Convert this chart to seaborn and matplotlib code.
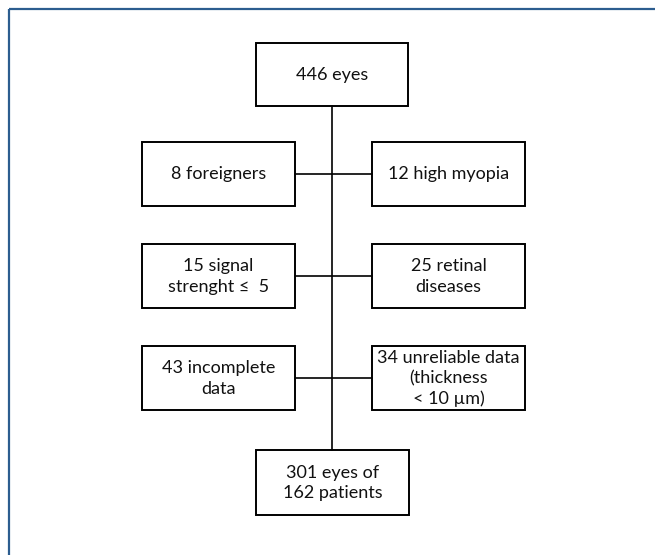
import matplotlib
matplotlib.use("Agg")
import matplotlib.pyplot as plt
import seaborn as sns
from matplotlib.patches import Rectangle

sns.set_theme(style="white")
plt.rcParams['font.family'] = ['Lato', 'DejaVu Sans']

# Flowchart content
top_label = "446 eyes"
left_labels = ["8 foreigners", "15 signal\nstrenght ≤  5", "43 incomplete\ndata"]
right_labels = ["12 high myopia", "25 retinal\ndiseases", "34 unreliable data\n(thickness\n< 10 µm)"]
bottom_label = "301 eyes of\n162 patients"

W, H = 655, 555
fig = plt.figure(figsize=(W / 100, H / 100), dpi=100)
ax = fig.add_axes([0, 0, 1, 1])
ax.set_xlim(0, W)
ax.set_ylim(H, 0)
ax.axis("off")

# outer frame (extends beyond the right and bottom edges)
ax.add_patch(Rectangle((9, 9), W + 20, H + 20, fill=False, edgecolor="#2c5d8f", lw=1.6))

box_lw = 1.4
fs = 13.0

def box(x0, y0, x1, y1, text):
    ax.add_patch(Rectangle((x0, y0), x1 - x0, y1 - y0, fill=False, edgecolor="black", lw=box_lw, zorder=3))
    ax.text((x0 + x1) / 2, (y0 + y1) / 2 + 0.5, text, ha="center", va="center", fontsize=fs,
            color="#111111", linespacing=1.32, zorder=4)

cx = 331.5
top_box = (256, 43, 408, 106)
bot_box = (256, 450, 409, 515)
rows_y = [(142, 206), (244, 308), (346, 410)]
left_x = (142, 295)
right_x = (372, 525)

# central vertical line
sns.lineplot(x=[cx, cx], y=[top_box[3], bot_box[1]], ax=ax, color="black", lw=1.2, estimator=None, sort=False)

box(*top_box, top_label)
box(*bot_box, bottom_label)
for (y0, y1), lt, rt in zip(rows_y, left_labels, right_labels):
    box(left_x[0], y0, left_x[1], y1, lt)
    box(right_x[0], y0, right_x[1], y1, rt)
    ym = (y0 + y1) / 2
    sns.lineplot(x=[left_x[1], right_x[0]], y=[ym, ym], ax=ax, color="black", lw=1.2, estimator=None, sort=False)

fig.savefig("out.png", dpi=100, facecolor="white")
